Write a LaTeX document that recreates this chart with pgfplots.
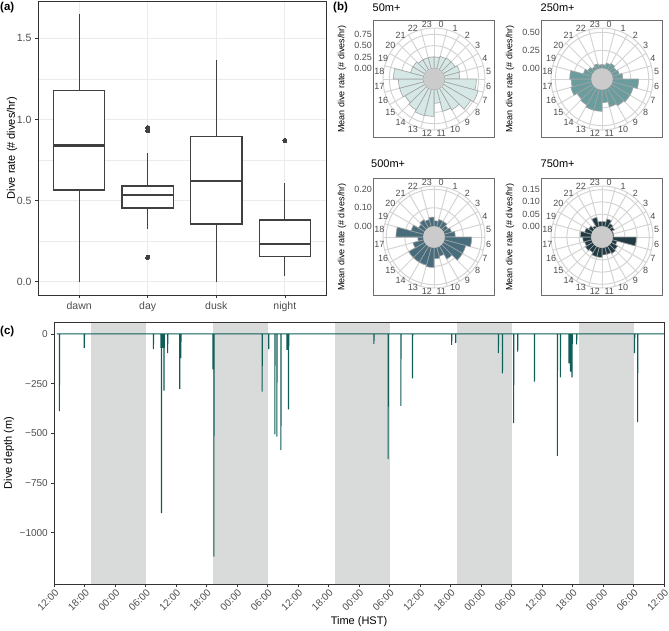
\documentclass[border=0pt]{standalone}
\usepackage{fontspec}
\setmainfont{Liberation Sans}
\usepackage{pgfplots}
\pgfplotsset{compat=1.18}
\usepackage{pgfplotstable}
\usepgfplotslibrary{statistics}

\definecolor{gridgrey}{HTML}{EBEBEB}
\definecolor{textgrey}{HTML}{4D4D4D}
\definecolor{frame}{HTML}{333333}
\definecolor{boxline}{HTML}{404040}
\definecolor{framegrey}{HTML}{6E6E6E}
\definecolor{polargrid}{HTML}{D4D4D4}
\definecolor{centregrey}{HTML}{CBCBCB}
\definecolor{barline}{HTML}{A3A3A3}
\definecolor{rose50}{HTML}{D5E8E6}
\definecolor{rose250}{HTML}{6B9D9F}
\definecolor{rose500}{HTML}{476D7D}
\definecolor{rose750}{HTML}{213B45}
\definecolor{dive}{HTML}{0F5E57}
\definecolor{night}{HTML}{D9DBDA}

% mean dive rate (# dives/hr) per hour of day, by depth threshold
\pgfplotstableread{
hour m50  m250 m500  m750
0    0.25 0.05 0.03  0.020
1    0.28 0.08 0.04  0.033
2    0.30 0.10 0.04  0.020
3    0.30 0.08 0.03  0.015
4    0.35 0.10 0.04  0.005
5    0.33 0.14 0.057 0.005
6    0.70 0.36 0.146 0.097
7    0.77 0.30 0.12  0.020
8    0.70 0.30 0.12  0.030
9    0.55 0.28 0.08  0.035
10   0.50 0.25 0.05  0.030
11   0.30 0.18 0.06  0.030
12   0.59 0.30 0.107 0.040
13   0.60 0.30 0.10  0.040
14   0.55 0.27 0.10  0.030
15   0.50 0.25 0.10  0.035
16   0.55 0.30 0.06  0.030
17   0.55 0.28 0.03  0.035
18   0.66 0.30 0.148 0.045
19   0.30 0.12 0.07  0.030
20   0.30 0.08 0.04  0.020
21   0.25 0.05 0.05  0.010
22   0.25 0.07 0.04  0.040
23   0.25 0.05 0.05  0.020
}\roserates

% rose panels: 1 axis unit = 1pt, centre at (0,0), inner hole of radius 10.7
\pgfplotsset{roseaxis/.style={
  anchor=north west, scale only axis, width=121pt, height=117pt,
  xmin=-60.5, xmax=60.5, ymin=-58.5, ymax=58.5,
  xtick=\empty, clip=false,
  axis line style={framegrey, line width=0.7pt},
  ytick style={draw=none}, major tick length=0pt,
  yticklabel style={font=\fontsize{9}{9}\selectfont, text=textgrey, inner sep=1.5pt},
}}

% #1 ring radii
\newcommand\rosegrid[1]{%
  \pgfplotsinvokeforeach{#1}{\draw[polargrid, line width=1pt] (axis cs:0,0) circle[radius=##1pt];}%
  \draw[polargrid, line width=1pt] (axis cs:0,0) circle[radius=51pt];%
  \pgfplotsinvokeforeach{0,...,23}{%
    \draw[polargrid, line width=1pt] (axis cs:0,0) -- (axis cs:{51*cos(90-15*##1)},{51*sin(90-15*##1)});}%
}
% #1 column, #2 pt per unit rate, #3 fill colour
\newcommand\rosebars[3]{%
  \pgfplotsinvokeforeach{0,...,23}{%
    \pgfplotstablegetelem{##1}{#1}\of\roserates
    \pgfmathsetmacro\rout{10.7+#2*\pgfplotsretval}%
    \pgfmathsetmacro\ta{90-15*##1}%
    \pgfmathsetmacro\tb{\ta-7.5}%
    \pgfmathsetmacro\tc{\ta-15}%
    \edef\rosebarcmd{\noexpand\addplot[fill=#3, draw=barline, line width=0.6pt, data cs=polar]
      coordinates {(\ta,10.7) (\ta,\rout) (\tb,\rout) (\tc,\rout) (\tc,10.7)} -- cycle;}%
    \rosebarcmd
  }%
  \fill[centregrey] (axis cs:0,0) circle[radius=10.7pt];%
  \pgfplotsinvokeforeach{0,...,23}{%
    \node[font=\fontsize{9}{9}\selectfont, text=textgrey, inner sep=0pt]
      at (axis cs:{55*cos(82.5-15*##1)},{55*sin(82.5-15*##1)}) {##1};}%
}

\begin{document}
\begin{tikzpicture}[x=1pt,y=1pt]
\useasboundingbox (0,0) rectangle (669,-631);

% ---------------- (a) dive rate by period ----------------
\begin{axis}[
  at={(38pt,-1pt)}, anchor=north west, scale only axis,
  width=288pt, height=294pt,
  xmin=0.4, xmax=4.6, ymin=-0.082, ymax=1.7295,
  xtick={1,2,3,4}, xticklabels={dawn,day,dusk,night},
  ytick={0,0.5,1,1.5}, yticklabels={0.0,0.5,1.0,1.5},
  minor ytick={0.25,0.75,1.25},
  grid=both,
  major grid style={gridgrey, line width=0.9pt},
  minor grid style={gridgrey, line width=0.5pt},
  axis line style={frame, line width=0.8pt},
  tick pos=left, tick align=outside,
  major tick length=3pt, minor tick length=0pt,
  tick style={frame, line width=0.6pt},
  ticklabel style={font=\fontsize{10.5}{12}\selectfont, text=textgrey},
  boxplot/draw direction=y,
  boxplot/box extend=0.75,
  boxplot/whisker extend=0,
  boxplot/every median/.style={line width=2.6pt},
]
\addplot[boxline, line width=1.2pt, fill=white, boxplot prepared={draw position=1,
  lower whisker=0, lower quartile=0.565, median=0.84, upper quartile=1.18, upper whisker=1.647}]
  coordinates {};
\addplot[boxline, line width=1.2pt, fill=white, mark=*, mark size=2pt,
  mark options={fill=boxline, draw=boxline, line width=0pt},
  boxplot prepared={draw position=2,
  lower whisker=0.325, lower quartile=0.454, median=0.535, upper quartile=0.59, upper whisker=0.79}]
  coordinates {(2,0.95) (2,0.93) (2,0.15)};
\addplot[boxline, line width=1.2pt, fill=white, boxplot prepared={draw position=3,
  lower whisker=0, lower quartile=0.356, median=0.62, upper quartile=0.896, upper whisker=1.365}]
  coordinates {};
\addplot[boxline, line width=1.2pt, fill=white, mark=*, mark size=2pt,
  mark options={fill=boxline, draw=boxline, line width=0pt},
  boxplot prepared={draw position=4,
  lower whisker=0.033, lower quartile=0.155, median=0.233, upper quartile=0.38, upper whisker=0.607}]
  coordinates {(4,0.87)};
\end{axis}
\node[font=\fontsize{11}{12}\selectfont, rotate=90] at (12,-148) {Dive rate (\# dives/hr)};
\node[font=\bfseries\fontsize{11.5}{12}\selectfont, anchor=west, inner sep=0pt] at (0,-8) {(a)};

% ---------------- (b) hourly dive rate roses ----------------
\node[font=\bfseries\fontsize{11.5}{12}\selectfont, anchor=west, inner sep=0pt] at (333,-8) {(b)};
\node[font=\fontsize{11}{12}\selectfont, anchor=west, inner sep=0pt] at (372.5,-8) {50m+};
\node[font=\fontsize{11}{12}\selectfont, anchor=west, inner sep=0pt] at (540.5,-8) {250m+};
\node[font=\fontsize{11}{12}\selectfont, anchor=west, inner sep=0pt] at (371,-164) {500m+};
\node[font=\fontsize{11}{12}\selectfont, anchor=west, inner sep=0pt] at (540.5,-164) {750m+};
\foreach \px/\py in {342/-79, 510/-79, 342/-237, 510/-237}
  \node[font=\fontsize{9}{10}\selectfont, rotate=90] at (\px,\py) {Mean dive rate (\# dives/hr)};

\begin{axis}[roseaxis, at={(373.5pt,-20.5pt)},
  ytick={10.7,22.03,33.35,44.68}, yticklabels={0.00,0.25,0.50,0.75}]
\rosegrid{10.7,22.03,33.35,44.68}
\rosebars{m50}{45.3}{rose50}
\end{axis}

\begin{axis}[roseaxis, at={(541.5pt,-20.5pt)},
  ytick={10.7,28.7,46.7}, yticklabels={0.00,0.25,0.50}]
\rosegrid{10.7,28.7,46.7}
\rosebars{m250}{72}{rose250}
\end{axis}

\begin{axis}[roseaxis, at={(373.5pt,-178.5pt)},
  ytick={10.7,29.2,47.7}, yticklabels={0.00,0.10,0.20}]
\rosegrid{10.7,29.2,47.7}
\rosebars{m500}{185}{rose500}
\end{axis}

\begin{axis}[roseaxis, at={(541.5pt,-178.5pt)},
  ytick={10.7,22.9,35.1,47.3}, yticklabels={0.00,0.05,0.10,0.15}]
\rosegrid{10.7,22.9,35.1,47.3}
\rosebars{m750}{244}{rose750}
\end{axis}

% ---------------- (c) dive depth time series ----------------
\begin{axis}[
  at={(54.3pt,-322pt)}, anchor=north west, scale only axis,
  width=609.7pt, height=262pt,
  xmin=0, xmax=120, ymin=-1258, ymax=60,
  axis on top,
  xtick={0,6,...,120},
  xticklabels={12:00,18:00,00:00,06:00,12:00,18:00,00:00,06:00,12:00,18:00,00:00,06:00,
               12:00,18:00,00:00,06:00,12:00,18:00,00:00,06:00,12:00},
  ytick={-1000,-750,-500,-250,0}, yticklabels={−1000,−750,−500,−250,0},
  axis line style={frame, line width=0.8pt},
  tick pos=left, tick align=outside, major tick length=3pt,
  tick style={frame, line width=0.6pt},
  ticklabel style={font=\fontsize{10}{11}\selectfont, text=textgrey},
  xticklabel style={rotate=45, anchor=north east, inner sep=1pt},
]
% night-time periods (HST)
\addplot[fill=night, draw=none] coordinates {(7.2,-1258) (18.1,-1258) (18.1,60) (7.2,60)} -- cycle;
\addplot[fill=night, draw=none] coordinates {(31.2,-1258) (42.15,-1258) (42.15,60) (31.2,60)} -- cycle;
\addplot[fill=night, draw=none] coordinates {(55.2,-1258) (66.1,-1258) (66.1,60) (55.2,60)} -- cycle;
\addplot[fill=night, draw=none] coordinates {(79.2,-1258) (90.15,-1258) (90.15,60) (79.2,60)} -- cycle;
\addplot[fill=night, draw=none] coordinates {(103.2,-1258) (114.15,-1258) (114.15,60) (103.2,60)} -- cycle;
% dive profile
\addplot[dive, line width=1.1pt] coordinates {
(0.5,0) (1.0,0) (1.0,-388) (1.04,0)
(5.9,0) (5.9,-72) (5.94,0)
(19.5,0) (19.5,-77) (19.54,0)
(21.0,0) (21.0,-70) (21.04,0)
(21.1,0) (21.1,-902) (21.14,0)
(21.3,0) (21.3,-70) (21.34,0)
(21.6,0) (21.6,-285) (21.64,0)
(22.3,0) (22.3,-97) (22.34,0)
(24.7,0) (24.7,-277) (24.74,0)
(24.9,0) (24.9,-122) (24.94,0)
(31.2,0) (31.2,-178) (31.24,0)
(31.4,0) (31.4,-1120) (31.44,0)
(40.9,0) (40.9,-290) (40.94,0)
(42.2,0) (42.2,-77) (42.24,0)
(43.4,0) (43.4,-505) (43.44,0)
(43.8,0) (43.8,-517) (43.84,0)
(44.6,0) (44.6,-584) (44.64,0)
(45.8,0) (45.8,-80) (45.84,0)
(46.1,0) (46.1,-379) (46.14,0)
(62.9,0) (62.9,-50) (62.94,0)
(65.7,0) (65.7,-630) (65.74,0)
(68.2,0) (68.2,-362) (68.24,0)
(70.5,0) (70.5,-223) (70.54,0)
(78.2,0) (78.2,-55) (78.24,0)
(79.0,0) (79.0,-45) (79.04,0)
(87.4,0) (87.4,-97) (87.44,0)
(88.2,0) (88.2,-198) (88.24,0)
(90.4,0) (90.4,-449) (90.44,0)
(91.2,0) (91.2,-89) (91.24,0)
(94.5,0) (94.5,-240) (94.54,0)
(99.0,0) (99.0,-614) (99.04,0)
(99.6,0) (99.6,-218) (99.64,0)
(101.3,0) (101.3,-148) (101.34,0)
(101.6,0) (101.6,-190) (101.64,0)
(101.9,0) (101.9,-218) (101.94,0)
(102.8,0) (102.8,-52) (102.84,0)
(114.2,0) (114.2,-97) (114.24,0)
(114.8,0) (114.8,-444) (114.84,0)
(120,0)
};
\end{axis}
\node[font=\fontsize{11}{12}\selectfont, rotate=90] at (9,-453) {Dive depth (m)};
\node[font=\fontsize{11}{12}\selectfont] at (359,-622) {Time (HST)};
\node[font=\bfseries\fontsize{11.5}{12}\selectfont, anchor=west, inner sep=0pt] at (0,-332) {(c)};
\end{tikzpicture}
\end{document}
